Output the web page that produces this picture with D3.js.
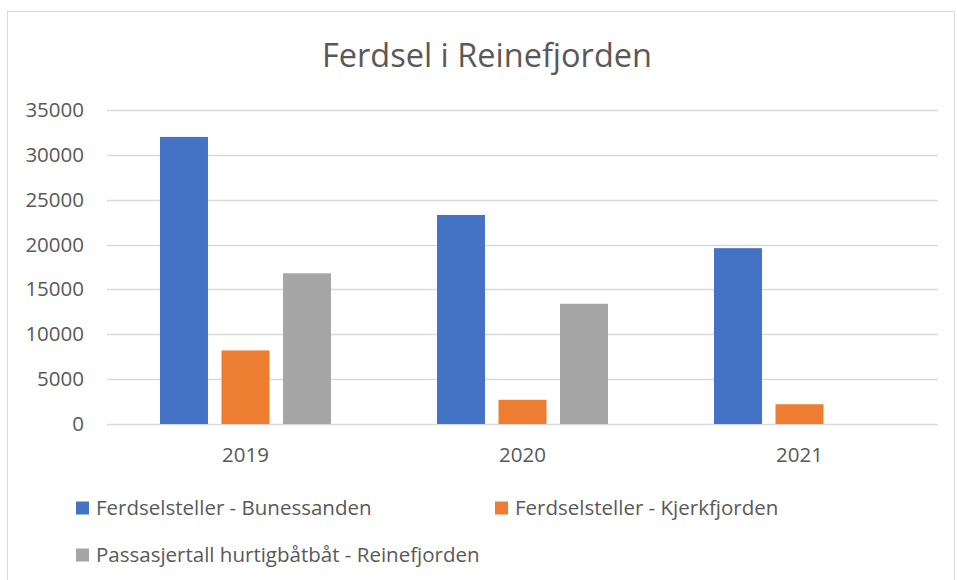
<!DOCTYPE html>
<html>
<head>
<meta charset="utf-8">
<script src="https://d3js.org/d3.v7.min.js"></script>
<style>
  body { margin: 0; background: #fff; }
  text { font-family: "Open Sans", "Noto Sans", sans-serif; fill: #595959; }
</style>
</head>
<body>
<svg id="chart" width="957" height="580"></svg>
<script>
// data
const years = ["2019", "2020", "2021"];
const seriesNames = ["Ferdselsteller - Bunessanden", "Ferdselsteller - Kjerkfjorden", "Passasjertall hurtigbåtbåt - Reinefjorden"];
const bunessanden = [32000, 23300, 19600];
const kjerkfjorden = [8200, 2700, 2200];
const hurtigbat = [16800, 13400, null];
const colors = ["#4472c4", "#ed7d31", "#a5a5a5"];
const yTicks = [0, 5000, 10000, 15000, 20000, 25000, 30000, 35000];

const svg = d3.select("#chart");
const margin = {top: 110, left: 107, right: 19, bottom: 156};
const width = 957 - margin.left - margin.right;
const height = 580 - margin.top - margin.bottom;

// outer chart frame
svg.append("rect")
    .attr("x", 7.5).attr("y", 11.5)
    .attr("width", 947).attr("height", 580)
    .attr("fill", "none").attr("stroke", "#d9d9d9");

svg.append("text")
    .attr("x", 487).attr("y", 67)
    .attr("text-anchor", "middle")
    .style("font-size", "32.5px")
    .text("Ferdsel i Reinefjorden");

const g = svg.append("g").attr("transform", `translate(${margin.left},${margin.top})`);

const x = d3.scaleBand().domain(years).range([0, width]);
const x1 = d3.scaleBand().domain(d3.range(3)).range([53, x.bandwidth() - 53]).paddingInner(0.22);
const y = d3.scaleLinear().domain([0, 35000]).range([height, 0]);

// gridlines
g.append("g").selectAll("line").data(yTicks).join("line")
    .attr("x1", 0).attr("x2", width)
    .attr("y1", d => Math.round(y(d)) + 0.5).attr("y2", d => Math.round(y(d)) + 0.5)
    .attr("stroke", "#d9d9d9").attr("stroke-width", 1.3);

// y axis labels
const yAxis = d3.axisLeft(y).tickValues(yTicks).tickSize(0).tickPadding(23).tickFormat(d3.format("d"));
g.append("g").call(yAxis)
    .call(a => a.select(".domain").remove())
    .selectAll("text").style("font-size", "20.5px").attr("fill", "#595959");

// x axis labels
const xAxis = d3.axisBottom(x).tickSize(0).tickPadding(23);
g.append("g").attr("transform", `translate(0,${height})`).call(xAxis)
    .call(a => a.select(".domain").remove())
    .selectAll("text").style("font-size", "20.5px").attr("fill", "#595959");

const series = [bunessanden, kjerkfjorden, hurtigbat];
const rows = [];
years.forEach((yr, i) => series.forEach((s, k) => {
  if (s[i] != null) rows.push({year: yr, k: k, v: s[i]});
}));

g.append("g").selectAll("rect").data(rows).join("rect")
    .attr("x", d => x(d.year) + x1(d.k))
    .attr("width", x1.bandwidth())
    .attr("y", d => y(d.v))
    .attr("height", d => y(0) - y(d.v))
    .attr("fill", d => colors[d.k]);

// legend
const legendPos = [[76, 508], [495, 508], [76, 555]];
const legend = svg.append("g").selectAll("g").data(seriesNames).join("g")
    .attr("transform", (d, i) => `translate(${legendPos[i][0]},${legendPos[i][1]})`);
legend.append("rect")
    .attr("x", 0).attr("y", -6.5).attr("width", 13).attr("height", 13)
    .attr("fill", (d, i) => colors[i]);
legend.append("text")
    .attr("x", 20).attr("y", 0).attr("dy", "0.35em")
    .style("font-size", "20.5px")
    .text(d => d);
</script>
</body>
</html>
